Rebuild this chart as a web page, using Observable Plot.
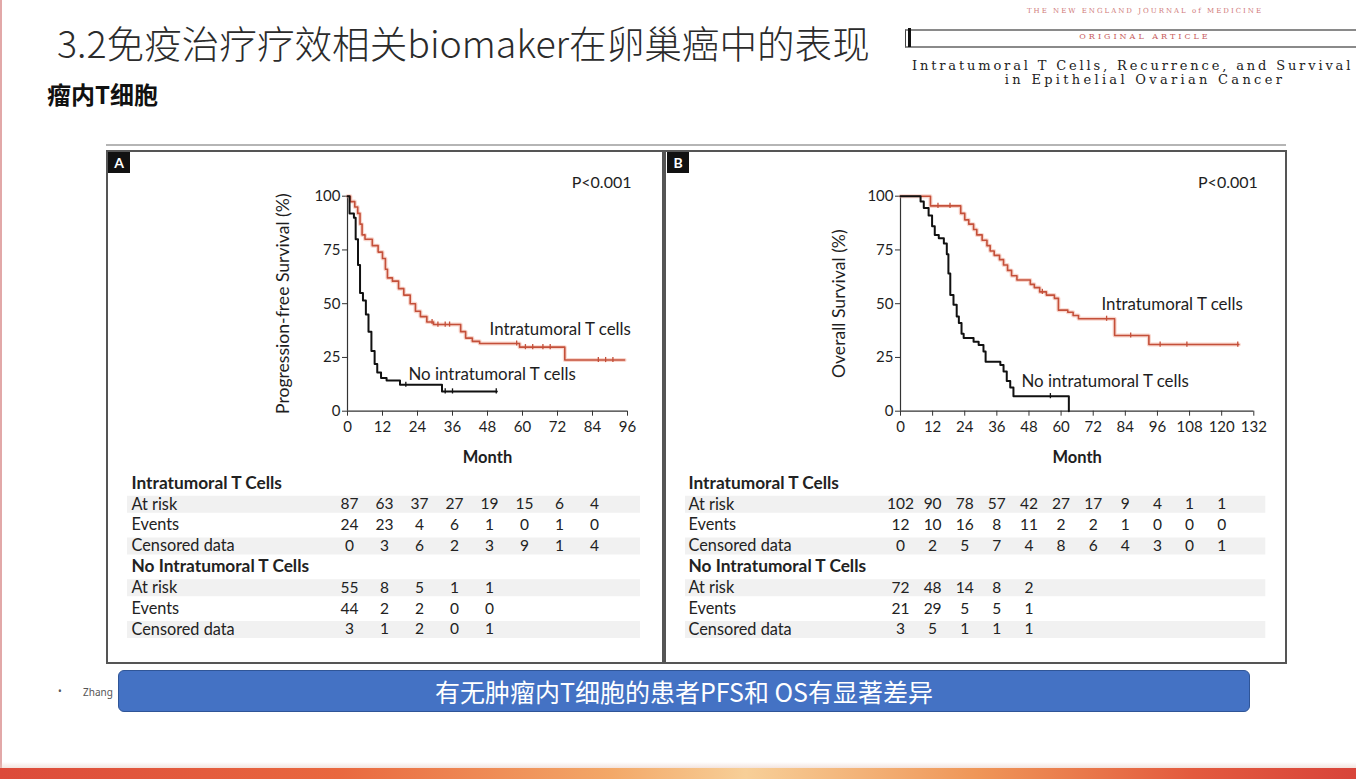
<!DOCTYPE html>
<html><head><meta charset="utf-8">
<script src="https://cdn.jsdelivr.net/npm/d3@7"></script>
<script src="https://cdn.jsdelivr.net/npm/@observablehq/plot@0.6"></script>
<style>
body{margin:0;background:#fff;}
#slide{position:relative;width:1356px;height:779px;overflow:hidden;background:#fff;font-family:"Noto Sans CJK SC","Noto Sans",sans-serif;}
.abs{position:absolute;}
.serif{font-family:"DejaVu Serif","Liberation Serif",serif;white-space:nowrap;}
.plabel{position:absolute;width:22px;height:21px;background:#111;color:#fff;font:bold 14px Lato,sans-serif;text-align:center;line-height:21px;}
</style></head><body><div id="slide">
<div class="abs" style="left:0;top:0;width:2px;height:779px;background:#e2a8a8"></div>
<div class="abs" style="left:57px;top:23px;font-size:37.6px;line-height:1;font-weight:300;color:#2b2b2b;white-space:nowrap">3.2免疫治疗疗效相关biomaker在卵巢癌中的表现</div>
<div class="abs" style="left:47px;top:81px;font-size:24px;line-height:1.1;font-weight:bold;color:#111;white-space:nowrap">瘤内T细胞</div>

<div class="abs serif" style="left:945px;width:400px;top:7px;font-size:7px;letter-spacing:2px;color:#d07a7a;text-align:center">THE NEW ENGLAND JOURNAL of MEDICINE</div>
<div class="abs" style="left:905px;top:29px;width:460px;height:15px;border-top:2px solid #8a8a8a;border-bottom:2px solid #8a8a8a;border-left:1px solid #444"></div>
<div class="abs" style="left:908px;top:28px;width:3px;height:19px;background:#111"></div>
<div class="abs serif" style="left:945px;width:400px;top:32px;font-size:8px;letter-spacing:3px;color:#c86060;text-align:center">ORIGINAL ARTICLE</div>
<div class="abs serif" style="left:912px;top:59px;font-size:13px;line-height:13px;letter-spacing:2.85px;color:#222">Intratumoral T Cells, Recurrence, and Survival</div>
<div class="abs serif" style="left:945px;width:400px;top:73px;font-size:13px;line-height:13px;letter-spacing:3.3px;color:#222;text-align:center">in Epithelial Ovarian Cancer</div>

<div class="abs" style="left:106px;top:144px;width:1180px;height:2px;background:#b5b5b5"></div>
<div class="abs" style="left:106px;top:150px;width:554px;height:510px;border:2px solid #555"></div>
<div class="abs" style="left:664px;top:150px;width:619px;height:510px;border:2px solid #555"></div>
<div class="plabel" style="left:108px;top:152px">A</div>
<div class="plabel" style="left:667px;top:152px">B</div>

<div id="chartA" class="abs" style="left:260px;top:180px"></div>
<div id="chartB" class="abs" style="left:820px;top:180px"></div>
<div id="tableA" class="abs" style="left:106px;top:470px"></div>
<div id="tableB" class="abs" style="left:664px;top:470px"></div>

<div class="abs" style="left:58px;top:684px;font-size:10px;color:#555;font-family:'Noto Sans',sans-serif">•</div>
<div class="abs" style="left:83px;top:685px;font-size:10px;color:#555;font-family:'Noto Sans',sans-serif">Zhang</div>
<div class="abs" style="left:118px;top:670px;width:1130px;height:40px;background:#4472c4;border:1px solid #2f5597;border-radius:6px;color:#fff;font-size:25px;line-height:40px;text-align:center;white-space:nowrap">有无肿瘤内T细胞的患者PFS和 OS有显著差异</div>
<div class="abs" style="left:0;top:762px;width:1356px;height:6px;background:linear-gradient(180deg,rgba(255,255,255,0),rgba(230,200,190,0.5))"></div>
<div class="abs" style="left:0;top:768px;width:1356px;height:11px;background:linear-gradient(90deg,#dc4a3a 0%,#e9683f 25%,#f3a868 45%,#f7cf98 55%,#ef9658 72%,#e35a3e 88%,#d8443a 100%)"></div>
</div>
<script>
// ---------- data ----------
const survTicks = [0, 25, 50, 75, 100];
const monthTicksA = [0, 12, 24, 36, 48, 60, 72, 84, 96];
const monthTicksB = [0, 12, 24, 36, 48, 60, 72, 84, 96, 108, 120, 132];

// Panel A: progression-free survival (Kaplan-Meier steps)
const pfsT_time = [0, 1, 2.5, 3.5, 4.3, 5, 6, 8.5, 10.5, 12, 13, 13.7, 15.4, 17.5, 19.3, 21.5, 23.3, 25, 27.2, 29.5, 38.8, 40.5, 42.8, 45.3, 59, 74.5, 95];
const pfsT_surv = [100, 97.5, 95, 92, 87, 82, 80, 77, 74, 71, 66, 62, 60.5, 57, 54, 50, 46.5, 44, 41.5, 40.3, 37, 34, 32.5, 31.5, 29.8, 23.8, 23.8];
const pfsN_time = [0, 0.7, 2.2, 2.8, 3.6, 4.3, 5.3, 6.3, 7.2, 8.2, 9.3, 10.2, 11.5, 13.4, 18, 32.4, 51.2];
const pfsN_surv = [100, 92, 90, 80, 68, 55, 51.5, 45, 37, 28, 22, 18, 15.5, 14.3, 12.3, 9.2, 9.2];
const pfsT_censor = [29, 31, 33.5, 35, 58, 61, 63.5, 67, 69.5, 86, 88.5, 91];
const pfsN_censor = [20, 33.5, 36, 51];

// Panel B: overall survival
const osT_time = [0, 11.2, 22.5, 24, 25.5, 27.3, 28.5, 30.5, 32.3, 33.5, 35, 37, 38.5, 40, 41.5, 43.5, 48.5, 50, 52, 54.5, 57.5, 59, 62.5, 64.5, 66.5, 80, 92.8, 126.4];
const osT_surv = [100, 95.5, 92, 89, 87, 84.5, 82, 79.5, 77, 74.5, 72.5, 70.5, 68, 65.5, 63, 61, 59, 57.5, 55.5, 54, 52.5, 47, 46, 44.5, 43, 35.2, 31, 31];
const osN_time = [0, 7.5, 8.7, 10.5, 11.8, 12.8, 14.3, 16.2, 17.3, 17.9, 18.6, 19.8, 21, 21.8, 22.8, 23.6, 27.3, 29.2, 31, 31.8, 37.3, 38.5, 39.7, 41, 42.2, 62.9];
const osN_surv = [100, 97.5, 94.5, 91, 86, 82, 80.5, 78, 73, 64, 54, 49.5, 44, 41, 36, 34, 32.3, 30.8, 27.8, 23, 21.5, 18.5, 14, 11, 7, 0];
const osT_censor = [14, 18.5, 53, 77, 86, 97, 107, 126];
const osN_censor = [56];

const labelsA = [
  {x: 48.7, y: 38, text: "Intratumoral T cells"},
  {x: 20.9, y: 17, text: "No intratumoral T cells"}
];
const labelsB = [
  {x: 75.1, y: 49.6, text: "Intratumoral T cells"},
  {x: 45.2, y: 13.8, text: "No intratumoral T cells"}
];

// Number-at-risk tables
const tableRows = ["Intratumoral T Cells", "At risk", "Events", "Censored data", "No Intratumoral T Cells", "At risk", "Events", "Censored data"];
const headerRows = [0, 4];
const stripeRows = [1, 3, 5, 7];
const pfsT_atRisk = [87, 63, 37, 27, 19, 15, 6, 4];
const pfsT_events = [24, 23, 4, 6, 1, 0, 1, 0];
const pfsT_cens = [0, 3, 6, 2, 3, 9, 1, 4];
const pfsN_atRisk = [55, 8, 5, 1, 1];
const pfsN_events = [44, 2, 2, 0, 0];
const pfsN_cens = [3, 1, 2, 0, 1];
const osT_atRisk = [102, 90, 78, 57, 42, 27, 17, 9, 4, 1, 1];
const osT_events = [12, 10, 16, 8, 11, 2, 2, 1, 0, 0, 0];
const osT_cens = [0, 2, 5, 7, 4, 8, 6, 4, 3, 0, 1];
const osN_atRisk = [72, 48, 14, 8, 2];
const osN_events = [21, 29, 5, 5, 1];
const osN_cens = [3, 5, 1, 1, 1];

// ---------- helpers ----------
const FONT = "Lato, 'Open Sans', sans-serif";
const RED = "#c4503a";
function steps(times, survs) { return times.map((t, i) => ({t, s: survs[i]})); }
function survAt(times, survs, t) { let v = survs[0]; for (let i = 0; i < times.length; i++) if (times[i] <= t) v = survs[i]; return v; }
function censorPts(cens, times, survs) { return cens.map(t => ({t, s: survAt(times, survs, t)})); }

function kmChart({xmax, ticks, width, marginLeft, marginRight, red, black, redCens, blackCens, labels, ylabel, ylabelDx}) {
  return Plot.plot({
    width, height: 300,
    marginLeft, marginRight, marginTop: 15.7, marginBottom: 69.3,
    x: {domain: [0, xmax]},
    y: {domain: [0, 100]},
    style: {fontFamily: FONT, fontSize: "14px", color: "#1e1e1e", background: "none", overflow: "visible"},
    marks: [
      Plot.axisX({ticks, tickSize: 5, tickPadding: 5, label: null, fontSize: 15, stroke: "#333"}),
      Plot.axisY({ticks: survTicks, tickSize: 5, tickPadding: 2, label: null, fontSize: 15, stroke: "#333"}),
      Plot.ruleX([0], {y1: 0, y2: 100, stroke: "#333", strokeWidth: 1.2}),
      Plot.ruleY([0], {x1: 0, x2: xmax, stroke: "#333", strokeWidth: 1.2}),
      Plot.line(red, {x: "t", y: "s", curve: "step-after", stroke: "#f3b3a3", strokeWidth: 4, strokeOpacity: 0.55}),
      Plot.line(red, {x: "t", y: "s", curve: "step-after", stroke: RED, strokeWidth: 1.6}),
      Plot.line(black, {x: "t", y: "s", curve: "step-after", stroke: "#111", strokeWidth: 2}),
      Plot.ruleX(redCens, {x: "t", y1: d => d.s - 1.2, y2: d => d.s + 1.2, stroke: RED, strokeWidth: 1.3}),
      Plot.ruleX(blackCens, {x: "t", y1: d => d.s - 1.2, y2: d => d.s + 1.2, stroke: "#111", strokeWidth: 1.3}),
      Plot.text(labels, {x: "x", y: "y", text: "text", textAnchor: "start", fontSize: 16.9, fill: "#1e1e1e"}),
      Plot.text(["P<0.001"], {frameAnchor: "top-right", lineAnchor: "middle", dx: 4, dy: -13, textAnchor: "end", fontSize: 16, fill: "#1e1e1e"}),
      Plot.text([ylabel], {frameAnchor: "left", textAnchor: "middle", lineAnchor: "middle", rotate: -90, dx: ylabelDx, fontSize: 17.6, fill: "#1e1e1e"}),
      Plot.text(["Month"], {frameAnchor: "bottom", textAnchor: "middle", lineAnchor: "middle", dy: 47, fontSize: 16.5, fontWeight: "bold", fill: "#1e1e1e"})
    ]
  });
}

function cells(groupRows) {
  const out = [];
  groupRows.forEach(([row, vals]) => vals.forEach((v, i) => out.push({row, m: i * 12, v})));
  return out;
}

function riskTable({xmax, width, marginLeft, marginRight, rowsData, labelDx, stripeInsetLeft, stripeInsetRight, numDx}) {
  const rows = tableRows.map((label, i) => ({label, i}));
  const heads = rows.filter(r => headerRows.includes(r.i));
  const plain = rows.filter(r => !headerRows.includes(r.i));
  return Plot.plot({
    width, height: 180,
    marginLeft, marginRight, marginTop: 0, marginBottom: 0,
    x: {domain: [0, xmax], axis: null},
    y: {domain: [0, 7], range: [13, 159], axis: null},
    style: {fontFamily: FONT, fontSize: "15px", color: "#222", background: "none", overflow: "visible"},
    marks: [
      Plot.ruleY(stripeRows, {y: d => d, stroke: "#f1f1f1", strokeWidth: 17, insetLeft: stripeInsetLeft, insetRight: stripeInsetRight}),
      Plot.text(heads, {frameAnchor: "left", y: "i", text: "label", dx: labelDx, textAnchor: "start", fontWeight: "bold", fontSize: 17.3, fill: "#222"}),
      Plot.text(plain, {frameAnchor: "left", y: "i", text: "label", dx: labelDx, textAnchor: "start", fontSize: 16.3, fill: "#222"}),
      Plot.text(cells(rowsData), {x: "m", y: "row", text: d => String(d.v), textAnchor: "middle", dx: numDx, fontSize: 15.5, fill: "#222"})
    ]
  });
}

// ---------- render ----------
document.getElementById("chartA").append(kmChart({
  xmax: 96, ticks: monthTicksA, width: 400, marginLeft: 87, marginRight: 33,
  red: steps(pfsT_time, pfsT_surv), black: steps(pfsN_time, pfsN_surv),
  redCens: censorPts(pfsT_censor, pfsT_time, pfsT_surv), blackCens: censorPts(pfsN_censor, pfsN_time, pfsN_surv),
  labels: labelsA, ylabel: "Progression-free Survival (%)", ylabelDx: -64
}));
document.getElementById("chartB").append(kmChart({
  xmax: 132, ticks: monthTicksB, width: 460, marginLeft: 80, marginRight: 26.7,
  red: steps(osT_time, osT_surv), black: steps(osN_time, osN_surv),
  redCens: censorPts(osT_censor, osT_time, osT_surv), blackCens: censorPts(osN_censor, osN_time, osN_surv),
  labels: labelsB, ylabel: "Overall Survival (%)", ylabelDx: -61
}));
document.getElementById("tableA").append(riskTable({
  xmax: 96, width: 556, marginLeft: 241, marginRight: 35,
  rowsData: [[1, pfsT_atRisk], [2, pfsT_events], [3, pfsT_cens], [5, pfsN_atRisk], [6, pfsN_events], [7, pfsN_cens]],
  labelDx: -216, stripeInsetLeft: -220, stripeInsetRight: -13, numDx: 2
}));
document.getElementById("tableB").append(riskTable({
  xmax: 132, width: 620, marginLeft: 236, marginRight: 30.7,
  rowsData: [[1, osT_atRisk], [2, osT_events], [3, osT_cens], [5, osN_atRisk], [6, osN_events], [7, osN_cens]],
  labelDx: -212, stripeInsetLeft: -215, stripeInsetRight: -12, numDx: 0
}));
</script>
</body></html>
